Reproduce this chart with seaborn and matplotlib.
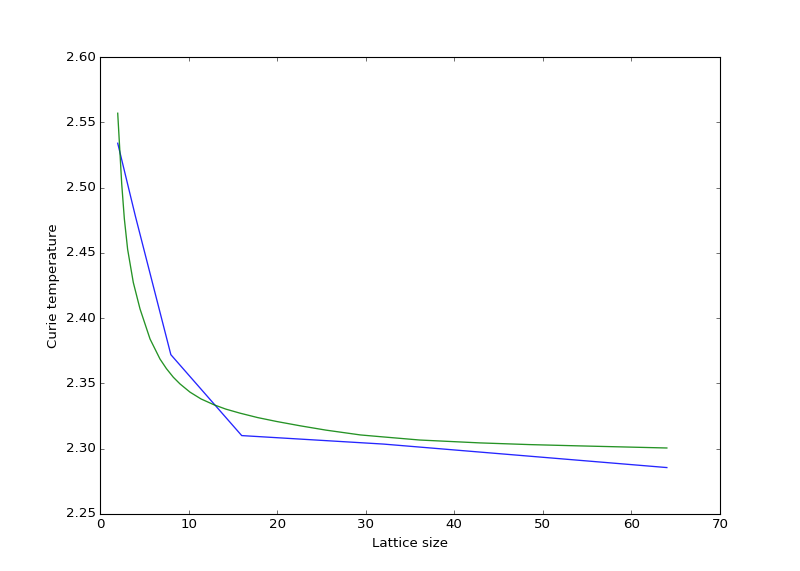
import pandas as pd
import matplotlib
matplotlib.use("Agg")
import matplotlib.pyplot as plt
import seaborn as sns

# simulated Curie temperature for each lattice size
lattice_sizes = [2, 4, 8, 16, 32, 64]
curie_temps = [2.534, 2.478, 2.372, 2.310, 2.3035, 2.2855]

# fitted curve
fit_sizes = [2.0, 2.2, 2.45, 2.75, 3.12, 3.76, 4.52, 5.65, 6.77, 7.5, 8.28, 9.03, 10.16,
             11.4, 12.87, 14.2, 15.8, 17.8, 19.95, 22.6, 25.5, 29.4, 31.6, 36.1, 42.9,
             48.5, 54.2, 64.0]
fit_temps = [2.557, 2.533, 2.503, 2.476, 2.4527, 2.4273, 2.407, 2.384, 2.3687, 2.3613, 2.3547,
             2.3496, 2.3433, 2.3381, 2.3336, 2.3303, 2.3272, 2.3238, 2.3208, 2.3175, 2.3142,
             2.3105, 2.3092, 2.3066, 2.3044, 2.3031, 2.3021, 2.3005]

df_sim = pd.DataFrame({"size": lattice_sizes, "temp": curie_temps})
df_fit = pd.DataFrame({"size": fit_sizes, "temp": fit_temps})

# old matplotlib look
plt.style.use("classic")
plt.rcParams["font.family"] = ["DejaVu Sans"]

fig, ax = plt.subplots(figsize=(10, 7.1375))
fig.patch.set_facecolor("white")

sns.lineplot(data=df_sim, x="size", y="temp", color="b", lw=1.2, alpha=0.85,
             estimator=None, ax=ax)
sns.lineplot(data=df_fit, x="size", y="temp", color="g", lw=1.2, alpha=0.85,
             estimator=None, ax=ax)

ax.set_xlim(0, 70)
ax.set_ylim(2.25, 2.60)
ax.set_xlabel("Lattice size")
ax.set_ylabel("Curie temperature")

plt.savefig("out.png", dpi=80, facecolor="white")
